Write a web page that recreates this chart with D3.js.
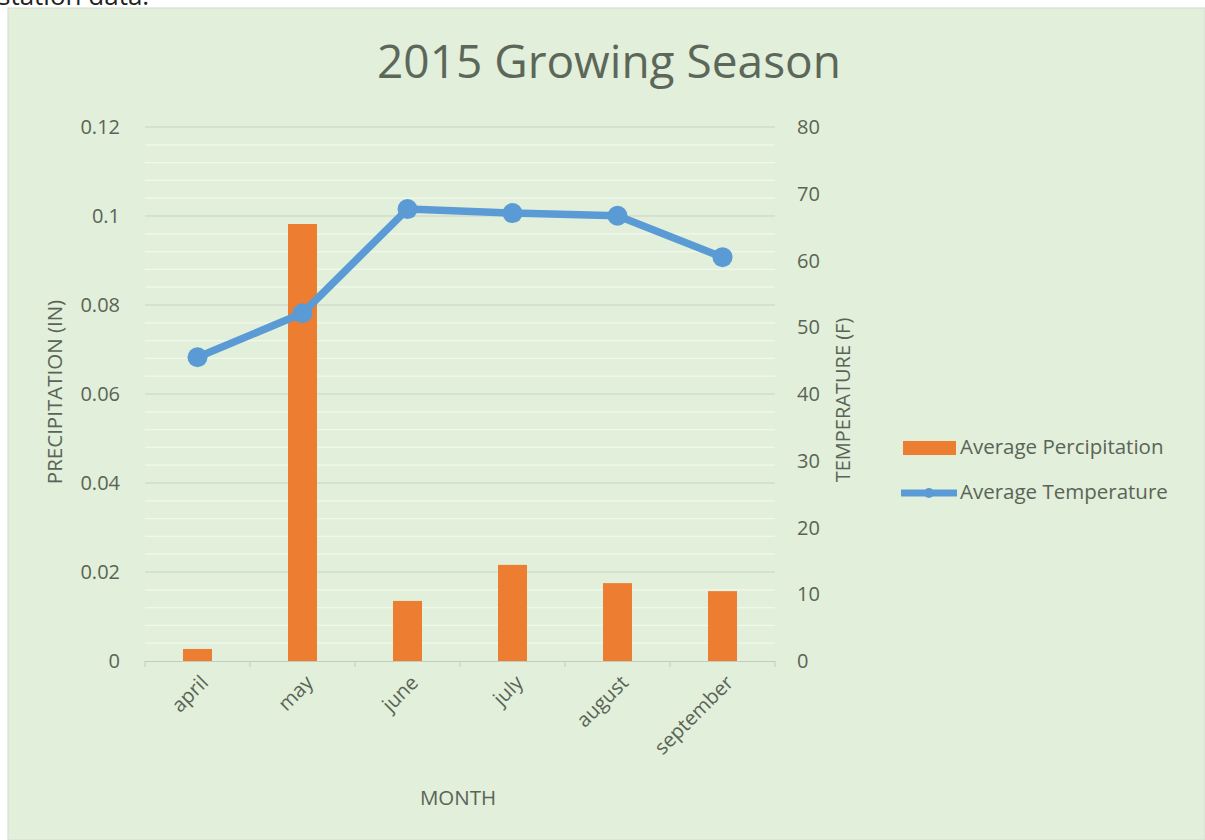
<!DOCTYPE html>
<html><head><meta charset="utf-8">
<script src="https://cdn.jsdelivr.net/npm/d3@7"></script>
<style>
body{margin:0;background:#fff;}
svg{display:block;}
text{font-family:"Open Sans","Noto Sans",sans-serif;}
</style></head>
<body>
<svg id="c" width="1205" height="840"></svg>
<script>
const months = ["april","may","june","july","august","september"];
const precipitation = [0.0027, 0.0982, 0.0135, 0.0216, 0.0175, 0.0157];
const temperature = [45.5, 52.1, 67.7, 67.1, 66.7, 60.5];
const leftTicks = [0, 0.02, 0.04, 0.06, 0.08, 0.1, 0.12];
const rightTicks = [0, 10, 20, 30, 40, 50, 60, 70, 80];

const svg = d3.select("#c");
const W = 1205, H = 840;
const plot = {l:145, r:775, t:127, b:661};
const tickColor = "#596456";

// page text and chart background
svg.append("text").attr("x",-2).attr("y",5).attr("font-size",26).attr("fill","#222")
  .attr("font-family","Lato, sans-serif").text("station data.");
svg.append("rect").attr("x",8).attr("y",8).attr("width",W-8).attr("height",H-8)
  .attr("fill","#E2EFDA").attr("stroke","#d4dccf").attr("stroke-width",1);

const x = d3.scaleBand().domain(months).range([plot.l, plot.r]).paddingInner(0).paddingOuter(0);
const yL = d3.scaleLinear().domain([0,0.12]).range([plot.b, plot.t]);
const yR = d3.scaleLinear().domain([0,80]).range([plot.b, plot.t]);

// minor gridlines
const minor = d3.range(0, 0.1201, 0.004).filter(v => Math.abs(v/0.02 - Math.round(v/0.02)) > 1e-6);
svg.append("g").selectAll("line").data(minor).join("line")
  .attr("x1",plot.l).attr("x2",plot.r)
  .attr("y1",d=>yL(d)).attr("y2",d=>yL(d))
  .attr("stroke","#f2f7ee").attr("stroke-width",1.2);
// major gridlines
svg.append("g").selectAll("line").data(leftTicks.slice(1)).join("line")
  .attr("x1",plot.l).attr("x2",plot.r)
  .attr("y1",d=>yL(d)).attr("y2",d=>yL(d))
  .attr("stroke","#c9d3c3").attr("stroke-width",1);

// left axis labels
svg.append("g").selectAll("text").data(leftTicks).join("text")
  .attr("x",120).attr("y",d=>yL(d)).attr("dy","0.35em")
  .attr("text-anchor","end").attr("font-size",20).attr("fill",tickColor)
  .text(d=>d3.format("")(d));
// right axis labels
svg.append("g").selectAll("text").data(rightTicks).join("text")
  .attr("x",797).attr("y",d=>yR(d)).attr("dy","0.35em")
  .attr("text-anchor","start").attr("font-size",20).attr("fill",tickColor)
  .text(d=>d);

// bars
const bw = 29;
svg.append("g").selectAll("rect").data(months).join("rect")
  .attr("x",(d)=>x(d)+x.bandwidth()/2-bw/2)
  .attr("width",bw)
  .attr("y",(d,i)=>yL(precipitation[i]))
  .attr("height",(d,i)=>yL(0)-yL(precipitation[i]))
  .attr("fill","#ED7D31");

// x axis baseline and ticks
const xa = svg.append("g");
xa.append("line").attr("x1",plot.l).attr("x2",plot.r).attr("y1",plot.b+0.5).attr("y2",plot.b+0.5)
  .attr("stroke","#c3ccbe").attr("stroke-width",1.2);
const bounds = months.map(m=>x(m)).concat([plot.r]);
xa.selectAll("line.t").data(bounds).join("line").attr("class","t")
  .attr("x1",d=>d).attr("x2",d=>d).attr("y1",plot.b).attr("y2",plot.b+6)
  .attr("stroke","#c3ccbe");
xa.selectAll("text").data(months).join("text")
  .attr("transform",d=>`translate(${x(d)+x.bandwidth()/2+7},${plot.b+18}) rotate(-45)`)
  .attr("text-anchor","end").attr("dy","0.35em").attr("font-size",20).attr("fill",tickColor)
  .text(d=>d);

// line
const cx = d => x(d)+x.bandwidth()/2;
const line = d3.line().x((d,i)=>cx(months[i])).y(d=>yR(d));
svg.append("path").datum(temperature).attr("d",line)
  .attr("fill","none").attr("stroke","#5B9BD5").attr("stroke-width",7.5)
  .attr("stroke-linejoin","round").attr("stroke-linecap","round");
svg.append("g").selectAll("circle").data(temperature).join("circle")
  .attr("cx",(d,i)=>cx(months[i])).attr("cy",d=>yR(d)).attr("r",10)
  .attr("fill","#5B9BD5");

// title
svg.append("text").attr("x",609).attr("y",62).attr("dy","0.35em").attr("text-anchor","middle")
  .attr("font-size",46).attr("fill","#5c675a").text("2015 Growing Season");

// axis titles
svg.append("text").attr("transform","translate(55,392) rotate(-90)").attr("text-anchor","middle")
  .attr("dy","0.35em").attr("font-size",20.5).attr("fill",tickColor).text("PRECIPITATION (IN)");
svg.append("text").attr("transform","translate(843,400) rotate(-90)").attr("text-anchor","middle")
  .attr("dy","0.35em").attr("font-size",20).attr("fill",tickColor).text("TEMPERATURE (F)");
svg.append("text").attr("x",458).attr("y",798).attr("dy","0.35em").attr("text-anchor","middle")
  .attr("font-size",20.5).attr("fill",tickColor).text("MONTH");

// legend
const lg = svg.append("g");
lg.append("rect").attr("x",903).attr("y",441).attr("width",53).attr("height",14).attr("fill","#ED7D31");
lg.append("text").attr("x",960).attr("y",447).attr("dy","0.35em").attr("font-size",20.5).attr("fill",tickColor)
  .text("Average Percipitation");
lg.append("line").attr("x1",901).attr("x2",957).attr("y1",493).attr("y2",493)
  .attr("stroke","#5B9BD5").attr("stroke-width",7);
lg.append("circle").attr("cx",929).attr("cy",493).attr("r",5).attr("fill","#5B9BD5");
lg.append("text").attr("x",960).attr("y",492).attr("dy","0.35em").attr("font-size",20.5).attr("fill",tickColor)
  .text("Average Temperature");
</script>
</body></html>
